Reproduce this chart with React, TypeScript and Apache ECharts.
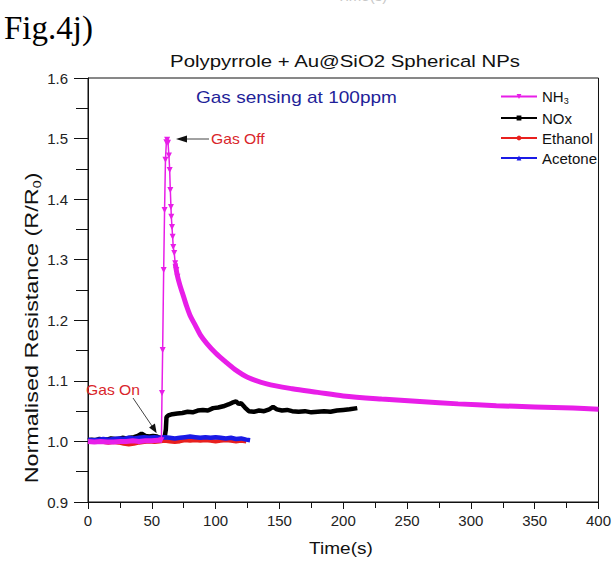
import React, { useEffect, useRef } from "react";
import * as echarts from "echarts";

// ---- Data ----
const xTicks = [0, 50, 100, 150, 200, 250, 300, 350, 400];
const yTicks = [0.9, 1.0, 1.1, 1.2, 1.3, 1.4, 1.5, 1.6];

// NH3: baseline before exposure
const nh3BaseTime = [0, 5, 10, 15, 20, 25, 30, 35, 40, 45, 50, 55, 57.5];
const nh3BaseValue = [1.0, 0.999, 1.0, 0.999, 0.999, 1.0, 1.0, 1.001, 1.0, 1.001, 1.001, 1.002, 1.002];
// NH3: rise to peak and early recovery (individual markers visible)
const nh3PulseTime = [57.5, 58, 58.5, 59.3, 60, 60.7, 61.4, 62, 62.7, 63.4, 64, 64.5, 65, 65.3, 65.8, 66.3, 66.8, 67.6, 68.3, 69.2, 70.1];
const nh3PulseValue = [1.002, 1.08, 1.151, 1.283, 1.382, 1.465, 1.494, 1.498, 1.493, 1.472, 1.448, 1.415, 1.387, 1.371, 1.354, 1.338, 1.321, 1.311, 1.294, 1.283, 1.272];
// NH3: slow recovery (dense markers forming a band)
const nh3DecayTime = [68.3, 70, 72, 74, 77, 80, 84, 88, 93, 100, 108, 115, 125, 140, 160, 180, 200, 230, 260, 290, 320, 350, 380, 400];
const nh3DecayValue = [1.294, 1.274, 1.258, 1.245, 1.225, 1.208, 1.192, 1.176, 1.162, 1.146, 1.131, 1.119, 1.106, 1.095, 1.087, 1.081, 1.075, 1.07, 1.066, 1.062, 1.059, 1.057, 1.055, 1.053];

const noxTime = [0, 3, 6, 9, 12, 15, 18, 21, 24, 27, 30, 33, 36, 39, 42, 45, 48, 51, 54, 56, 58, 60, 61, 61.5, 63, 66, 70, 74, 78, 82, 86, 90, 94, 98, 102, 106, 110, 113, 116, 118, 120, 123, 126, 130, 134, 138, 142, 145, 148, 152, 156, 160, 165, 170, 175, 180, 185, 190, 195, 200, 205, 211];
const noxValue = [1.002, 1.003, 1.002, 1.004, 1.003, 1.003, 1.005, 1.004, 1.004, 1.006, 1.005, 1.006, 1.007, 1.009, 1.013, 1.009, 1.008, 1.009, 1.008, 1.006, 1.005, 1.006, 1.02, 1.04, 1.043, 1.045, 1.046, 1.047, 1.049, 1.048, 1.051, 1.052, 1.051, 1.055, 1.056, 1.058, 1.061, 1.064, 1.066, 1.062, 1.063, 1.056, 1.05, 1.049, 1.051, 1.05, 1.053, 1.057, 1.053, 1.051, 1.052, 1.05, 1.049, 1.05, 1.048, 1.049, 1.05, 1.049, 1.051, 1.052, 1.053, 1.055];

const ethanolTime = [0, 4, 8, 12, 16, 20, 24, 28, 32, 36, 40, 44, 48, 52, 56, 60, 64, 68, 72, 76, 80, 84, 88, 92, 96, 100, 104, 108, 112, 116, 120, 124];
const ethanolValue = [1.0, 0.999, 1.0, 0.999, 0.998, 0.999, 0.998, 0.996, 0.995, 0.996, 0.998, 0.999, 1.0, 0.999, 1.0, 1.001, 1.0, 0.999, 1.0, 1.002, 1.001, 1.002, 1.001, 1.002, 1.001, 1.0, 1.001, 1.002, 1.001, 1.0, 1.001, 1.0];

const acetoneTime = [0, 4, 8, 12, 16, 20, 24, 28, 32, 36, 40, 44, 48, 52, 56, 60, 64, 68, 72, 76, 80, 84, 88, 92, 96, 100, 104, 108, 112, 116, 120, 124, 127];
const acetoneValue = [1.003, 1.002, 1.003, 1.004, 1.003, 1.004, 1.005, 1.004, 1.006, 1.005, 1.006, 1.007, 1.006, 1.007, 1.006, 1.007, 1.006, 1.005, 1.006, 1.007, 1.008, 1.007, 1.006, 1.007, 1.006, 1.007, 1.006, 1.005, 1.006, 1.004, 1.005, 1.003, 1.002];

const seriesNames = ["NH3", "NOx", "Ethanol", "Acetone"];

const zip = (t: number[], v: number[]) => t.map((x, i) => [x, v[i]]);

const FONT = '"Liberation Sans", Arial, sans-serif';
const MAGENTA = "#e81ee8";
const RED = "#e8201e";
const BLUE = "#1a1ae6";
const ANNOT = "#d9262b";

export default function App() {
  const ref = useRef<HTMLDivElement>(null);
  useEffect(() => {
    if (!ref.current) return;
    const chart = echarts.init(ref.current, null, { renderer: "svg" });
    const option: any = {
      animation: false,
      backgroundColor: "#fff",
      textStyle: { fontFamily: FONT },
      grid: { left: 88, right: 11, top: 78, bottom: 60, show: true, borderColor: "#111", borderWidth: 1 },
      legend: {
        data: seriesNames,
        orient: "vertical",
        left: 495,
        top: 84,
        itemGap: 5,
        itemWidth: 36,
        itemHeight: 6,
        textStyle: {
          fontFamily: FONT,
          fontSize: 15,
          color: "#111",
          rich: {
            n: { fontFamily: FONT, fontSize: 15, color: "#111" },
            s: { fontFamily: FONT, fontSize: 9, color: "#111", verticalAlign: "bottom", padding: [9, 0, 0, 0] },
          },
        },
        formatter: (name: string) => (name === "NH3" ? "{n|NH}{s|3}" : name),
      },
      xAxis: {
        type: "value",
        min: xTicks[0],
        max: xTicks[xTicks.length - 1],
        interval: 50,
        axisLine: { show: true, lineStyle: { color: "#111", width: 1 } },
        axisTick: { show: true, inside: false, length: 7, lineStyle: { color: "#111" } },
        minorTick: { show: true, splitNumber: 2, length: 6, lineStyle: { color: "#111" } },
        axisLabel: { fontFamily: FONT, fontSize: 15, color: "#222", margin: 11 },
        splitLine: { show: false },
      },
      yAxis: {
        type: "value",
        min: yTicks[0],
        max: yTicks[yTicks.length - 1],
        interval: 0.1,
        axisLine: { show: true, lineStyle: { color: "#111", width: 1 } },
        axisTick: { show: true, inside: false, length: 14, lineStyle: { color: "#111" } },
        minorTick: { show: true, splitNumber: 2, length: 12, lineStyle: { color: "#111" } },
        axisLabel: {
          fontFamily: FONT,
          fontSize: 15,
          color: "#222",
          margin: 20,
          formatter: (v: number) => v.toFixed(1),
        },
        splitLine: { show: false },
      },
      series: [
        {
          name: "NOx",
          type: "line",
          data: zip(noxTime, noxValue),
          symbol: "rect",
          symbolSize: 5,
          showSymbol: false,
          lineStyle: { color: "#000", width: 4.5 },
          itemStyle: { color: "#000" },
          z: 2,
        },
        {
          name: "Ethanol",
          type: "line",
          data: zip(ethanolTime, ethanolValue),
          symbol: "circle",
          symbolSize: 5,
          showSymbol: false,
          lineStyle: { color: RED, width: 4 },
          itemStyle: { color: RED },
          z: 3,
        },
        {
          name: "Acetone",
          type: "line",
          data: zip(acetoneTime, acetoneValue),
          symbol: "triangle",
          symbolSize: 5,
          showSymbol: false,
          lineStyle: { color: BLUE, width: 4.5 },
          itemStyle: { color: BLUE },
          z: 4,
        },
        {
          name: "NH3base",
          type: "line",
          data: zip(nh3BaseTime, nh3BaseValue),
          showSymbol: false,
          lineStyle: { color: MAGENTA, width: 5 },
          itemStyle: { color: MAGENTA },
          z: 5,
        },
        {
          name: "NH3decay",
          type: "line",
          data: zip(nh3DecayTime, nh3DecayValue),
          showSymbol: false,
          smooth: 0.3,
          lineStyle: { color: MAGENTA, width: 5 },
          itemStyle: { color: MAGENTA },
          z: 5,
        },
        {
          name: "NH3",
          type: "line",
          data: zip(nh3PulseTime, nh3PulseValue),
          symbol: "triangle",
          symbolRotate: 180,
          symbolSize: 6,
          showSymbol: true,
          lineStyle: { color: MAGENTA, width: 1.5 },
          itemStyle: { color: MAGENTA },
          z: 6,
        },
      ],
      graphic: [
        {
          type: "text",
          left: 4,
          top: 11,
          style: { text: "Fig.4j)", fontFamily: '"Liberation Serif", "Times New Roman", serif', fontSize: 33, fill: "#000" },
        },
        {
          type: "text",
          x: 362,
          y: -12,
          style: { text: "Time(s)", fontFamily: FONT, fontSize: 15, fill: "#c8c8c8", align: "center", verticalAlign: "top" },
        },
        {
          type: "text",
          x: 345,
          y: 61,
          scaleX: 1.2,
          style: { text: "Polypyrrole + Au@SiO2 Spherical NPs", fontFamily: FONT, fontSize: 17, fill: "#111", align: "center", verticalAlign: "middle" },
        },
        {
          type: "text",
          x: 196,
          y: 97,
          scaleX: 1.12,
          style: { text: "Gas sensing at 100ppm", fontFamily: FONT, fontSize: 17, fill: "#1f1f99", align: "left", verticalAlign: "middle" },
        },
        {
          type: "text",
          x: 341,
          y: 548,
          scaleX: 1.12,
          style: { text: "Time(s)", fontFamily: FONT, fontSize: 17, fill: "#111", align: "center", verticalAlign: "middle" },
        },
        {
          type: "text",
          x: 32,
          y: 328,
          rotation: Math.PI / 2,
          scaleX: 1.3,
          style: {
            text: "{a|Normalised Resistance (R/R}{s|0}{a|)}",
            align: "center",
            verticalAlign: "middle",
            rich: {
              a: { fontFamily: FONT, fontSize: 18, fill: "#111" },
              s: { fontFamily: FONT, fontSize: 11, fill: "#111", verticalAlign: "bottom", padding: [10, 0, 0, 0] },
            },
          },
        },
        {
          type: "text",
          x: 211,
          y: 139,
          z: 10,
          scaleX: 1.12,
          style: { text: "Gas Off", fontFamily: FONT, fontSize: 14, fill: ANNOT, align: "left", verticalAlign: "middle" },
        },
        {
          type: "line",
          z: 10,
          shape: { x1: 209, y1: 139, x2: 186, y2: 139 },
          style: { stroke: "#444", lineWidth: 1 },
        },
        {
          type: "polygon",
          z: 10,
          shape: { points: [[176, 139], [187, 135.5], [187, 142.5]] },
          style: { fill: "#111" },
        },
        {
          type: "text",
          x: 86,
          y: 390,
          z: 10,
          scaleX: 1.12,
          style: { text: "Gas On", fontFamily: FONT, fontSize: 14, fill: ANNOT, align: "left", verticalAlign: "middle" },
        },
        {
          type: "line",
          z: 10,
          shape: { x1: 133, y1: 398, x2: 152, y2: 426 },
          style: { stroke: "#444", lineWidth: 1 },
        },
        {
          type: "polygon",
          z: 10,
          shape: { points: [[156.7, 433.3], [149.1, 427.4], [154.9, 423.6]] },
          style: { fill: "#111" },
        },
      ],
    };
    chart.setOption(option);
    return () => chart.dispose();
  }, []);
  return (
    <div
      ref={ref}
      style={{ position: "absolute", left: 0, top: 0, width: 614, height: 562, background: "#fff" }}
    />
  );
}
